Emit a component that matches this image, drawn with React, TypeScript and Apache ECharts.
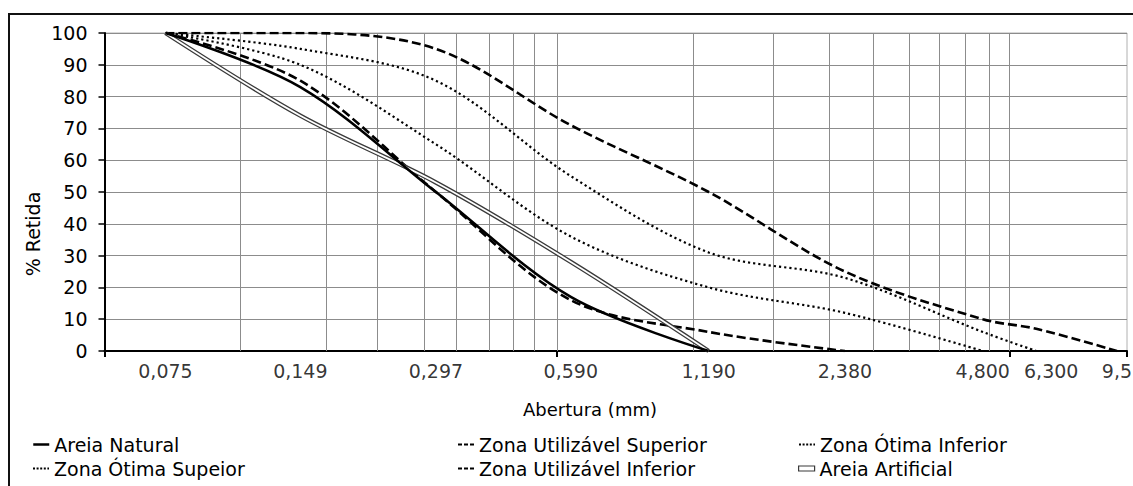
import React, { useEffect, useRef } from "react";
import * as echarts from "echarts";

// ---------- data ----------
const sieves = [0.075, 0.149, 0.297, 0.59, 1.19, 2.38, 4.8, 6.3, 9.5];
const sieveLabels = ["0,075", "0,149", "0,297", "0,590", "1,190", "2,380", "4,800", "6,300", "9,5"];

const areiaNatural = [100, 83, 50, 17, 0];
const zonaUtilSuperior = [100, 100, 95, 71, 50, 25, 10, 7, 0];
const zonaOtimaInferior = [100, 90, 65, 36, 20, 12, 0];
const zonaOtimaSuperior = [100, 95, 85, 55, 31, 23, 6, 0];
const zonaUtilInferior = [100, 85, 50, 16, 6, 0];
const areiaArtificial = [100, 74, 53, 28, 0];

// axis decoration (log grid lines at multiples of the axis base)
const xMin = 0.055;
const xMax = 10;
const xGridValues = [
  0.11, 0.165, 0.22, 0.275, 0.33, 0.385, 0.44, 0.495,
  0.55, 1.1, 1.65, 2.2, 2.75, 3.3, 3.85, 4.4, 4.95, 5.5,
];

const names = {
  natural: "Areia Natural",
  utilSup: "Zona Utilizável Superior",
  otimaInf: "Zona Ótima Inferior",
  otimaSup: "Zona Ótima Supeior",
  utilInf: "Zona Utilizável Inferior",
  artificial: "Areia Artificial",
};

const yTitle = "% Retida";
const xTitle = "Abertura (mm)";

// ---------- styling ----------
const FONT = "'DejaVu Sans', sans-serif";
const FS = 19;
const GRID_COLOR = "#8c8c8c";
const labelShift: Record<string, number> = { "6,300": 15 };

const toPairs = (ys: number[]) => ys.map((y, i) => [sieves[i], y]);

export default function App() {
  const ref = useRef<HTMLDivElement>(null);

  useEffect(() => {
    if (!ref.current) return;
    const chart = echarts.init(ref.current, null, { renderer: "svg" });

    const smooth = 0.33;
    const dashed = [9, 4];
    const dotted = [2.2, 3];

    const legendBase = (left: number, top: number) => ({
      left,
      top,
      orient: "horizontal",
      padding: 0,
      itemWidth: 16,
      itemHeight: 10,
      selectedMode: false,
      itemStyle: { opacity: 0 },
      textStyle: { fontFamily: FONT, fontSize: FS, color: "#000" },
    });

    const col1 = 32;
    const col2 = 457;
    const col3 = 798;
    const row1 = 435;
    const row2 = 459;

    const option: any = {
      animation: false,
      backgroundColor: "#fff",
      grid: {
        left: 104.5,
        right: 6,
        top: 33,
        bottom: 135,
        show: true,
        borderColor: "#b0b0b0",
        borderWidth: 1,
        backgroundColor: "transparent",
      },
      xAxis: {
        type: "log",
        logBase: 10,
        min: xMin,
        max: xMax,
        interval: 1,
        axisLine: { show: true, onZero: false, lineStyle: { color: "#000", width: 2 } },
        axisTick: { show: true, inside: false, length: 6, lineStyle: { color: "#000", width: 2 } },
        axisLabel: { show: false },
        splitLine: { show: false },
        minorTick: { show: false },
        minorSplitLine: { show: false },
      },
      yAxis: {
        type: "value",
        min: 0,
        max: 100,
        interval: 10,
        axisLine: { show: true, lineStyle: { color: "#000", width: 2 } },
        axisTick: { show: true, inside: false, length: 6, lineStyle: { color: "#000", width: 1.5 } },
        axisLabel: { margin: 17, fontFamily: FONT, fontSize: FS, color: "#000" },
        splitLine: { show: true, lineStyle: { color: GRID_COLOR, width: 1 } },
      },
      legend: [
        { ...legendBase(col1, row1), data: [names.natural], lineStyle: { width: 2.5, type: "solid", color: "#000" } },
        { ...legendBase(col1, row2), data: [names.otimaSup], lineStyle: { width: 2, type: [2, 1.6], color: "#000" } },
        { ...legendBase(col2, row1), data: [names.utilSup], lineStyle: { width: 2, type: [4, 2], color: "#000" } },
        { ...legendBase(col2, row2), data: [names.utilInf], lineStyle: { width: 2, type: [4, 2], color: "#000" } },
        { ...legendBase(col3, row1), data: [names.otimaInf], lineStyle: { width: 2, type: [2, 1.6], color: "#000" } },
        {
          ...legendBase(col3, row2),
          itemHeight: 5,
          data: [
            {
              name: names.artificial,
              icon: "rect",
              itemStyle: { color: "#fff", borderColor: "#3a3a3a", borderWidth: 1.2, opacity: 1 },
            },
          ],
        },
      ],
      graphic: [
        {
          type: "rect",
          silent: true,
          shape: { x: 9, y: 14, width: 1200, height: 600 },
          style: { fill: "none", stroke: "#111", lineWidth: 2 },
          z: -10,
        },
        {
          type: "text",
          x: 32.5,
          y: 234,
          rotation: Math.PI / 2,
          style: {
            text: yTitle,
            fontFamily: FONT,
            fontSize: FS,
            fill: "#000",
            align: "center",
            verticalAlign: "middle",
          },
        },
        {
          type: "text",
          x: 590,
          y: 409,
          style: {
            text: xTitle,
            fontFamily: FONT,
            fontSize: 18,
            fill: "#000",
            align: "center",
            verticalAlign: "middle",
          },
        },
      ],
      series: [
        {
          name: "__axisLabels",
          type: "scatter",
          symbolSize: 0,
          silent: true,
          clip: false,
          z: 1,
          data: sieves.map((v, i) => ({
            value: [v, 0],
            label: { offset: [labelShift[sieveLabels[i]] || 0, 0] },
          })),
          label: {
            show: true,
            position: "bottom",
            distance: 10.5,
            fontFamily: FONT,
            fontSize: FS,
            color: "#000",
            formatter: (p: any) => sieveLabels[p.dataIndex],
          },
          markLine: {
            silent: true,
            z: 1,
            symbol: ["none", "none"],
            label: { show: false },
            lineStyle: { color: GRID_COLOR, width: 1, type: "solid" },
            data: xGridValues.map((v) => ({ xAxis: v })),
            animation: false,
          },
        },
        {
          name: names.utilSup,
          type: "line",
          data: toPairs(zonaUtilSuperior),
          smooth,
          symbol: "none",
          z: 3,
          itemStyle: { color: "#000" },
          lineStyle: { color: "#000", width: 2.6, type: dashed },
        },
        {
          name: names.otimaSup,
          type: "line",
          data: toPairs(zonaOtimaSuperior),
          smooth,
          symbol: "none",
          z: 3,
          itemStyle: { color: "#000" },
          lineStyle: { color: "#000", width: 2.2, type: dotted },
        },
        {
          name: names.otimaInf,
          type: "line",
          data: toPairs(zonaOtimaInferior),
          smooth,
          symbol: "none",
          z: 3,
          itemStyle: { color: "#000" },
          lineStyle: { color: "#000", width: 2.2, type: dotted },
        },
        {
          name: names.utilInf,
          type: "line",
          data: toPairs(zonaUtilInferior),
          smooth,
          symbol: "none",
          z: 3,
          itemStyle: { color: "#000" },
          lineStyle: { color: "#000", width: 2.6, type: dashed },
        },
        {
          name: names.artificial,
          type: "line",
          data: toPairs(areiaArtificial),
          smooth,
          symbol: "none",
          z: 3,
          itemStyle: { color: "#3a3a3a" },
          lineStyle: { color: "#3a3a3a", width: 4.4, type: "solid" },
        },
        {
          name: "__artificialInner",
          type: "line",
          data: toPairs(areiaArtificial),
          smooth,
          symbol: "none",
          z: 4,
          silent: true,
          itemStyle: { color: "#fff" },
          lineStyle: { color: "#fff", width: 1.8, type: "solid" },
        },
        {
          name: names.natural,
          type: "line",
          data: toPairs(areiaNatural),
          smooth,
          symbol: "none",
          z: 5,
          itemStyle: { color: "#000" },
          lineStyle: { color: "#000", width: 2.6, type: "solid" },
        },
      ],
    };

    chart.setOption(option);
    return () => chart.dispose();
  }, []);

  return (
    <div
      ref={ref}
      style={{ position: "fixed", left: 0, top: 0, width: 1133, height: 486, background: "#fff" }}
    />
  );
}
